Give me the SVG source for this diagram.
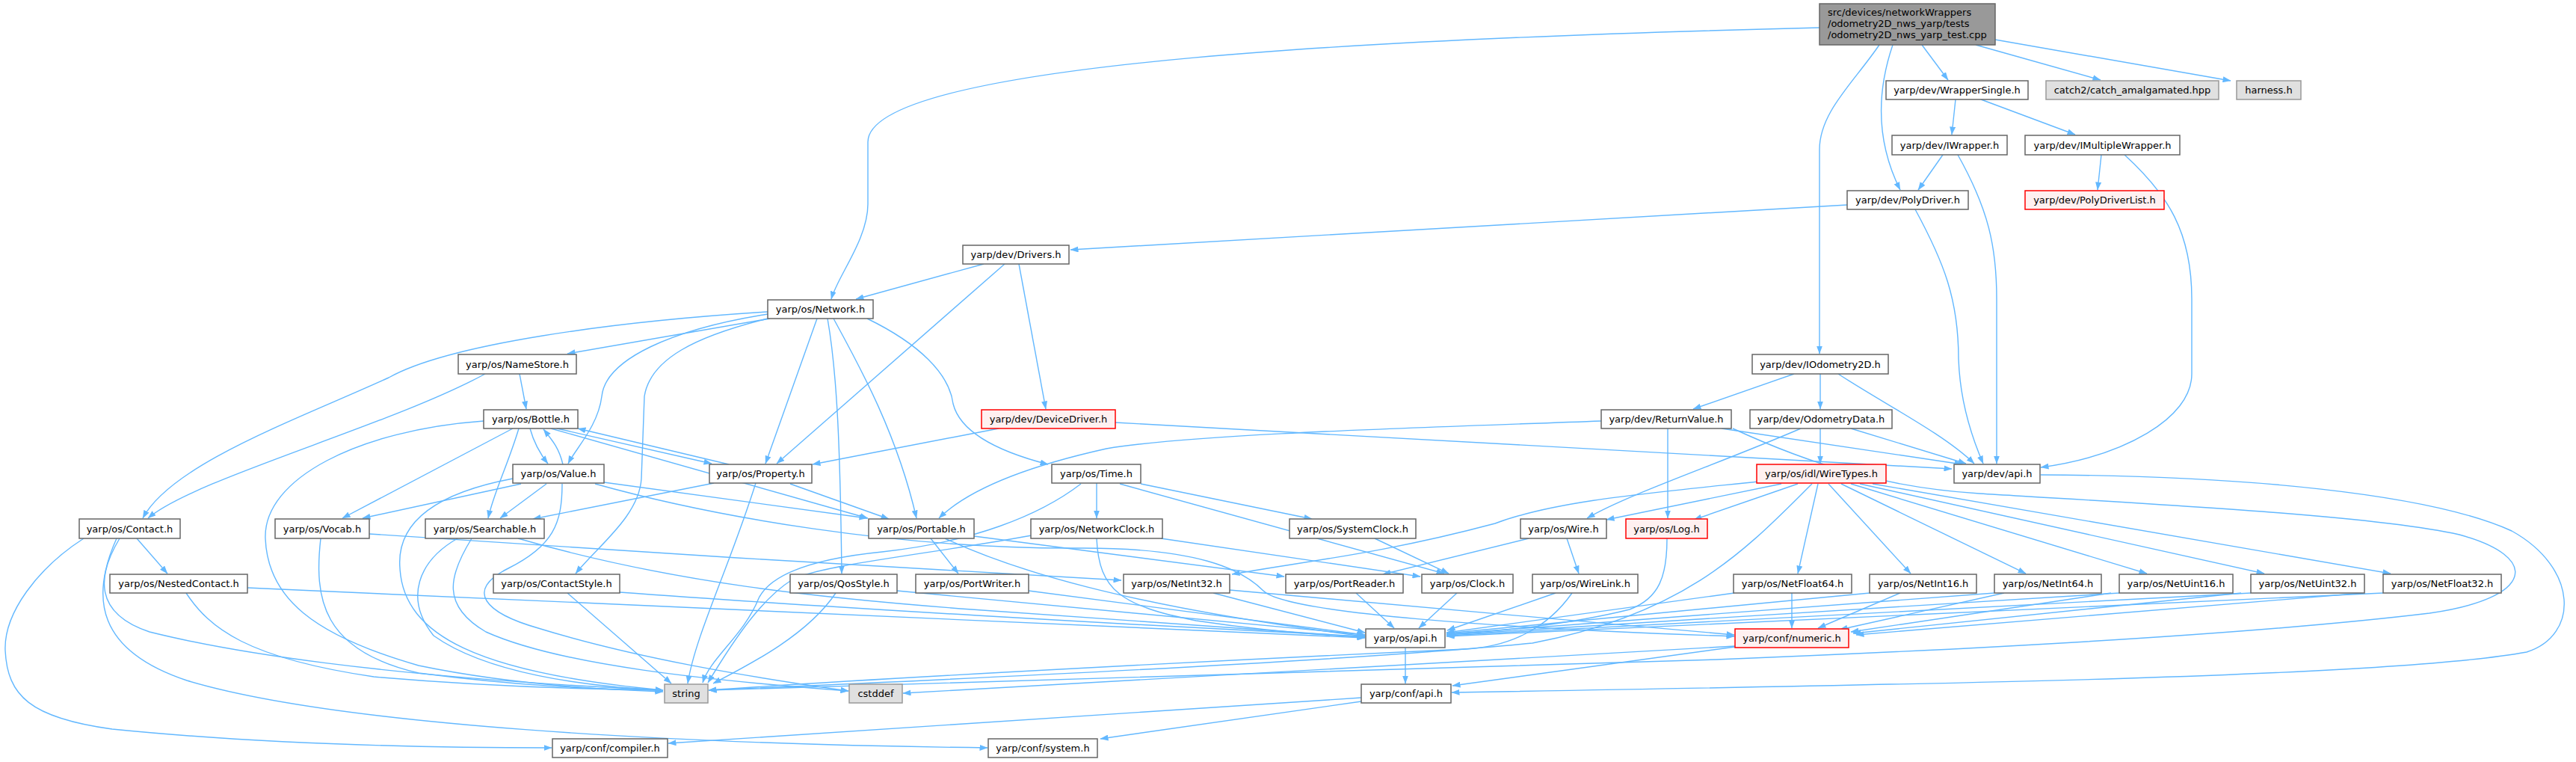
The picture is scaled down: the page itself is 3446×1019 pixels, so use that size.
<svg xmlns="http://www.w3.org/2000/svg" width="3446" height="1019" viewBox="0 0 3446 1019">
<style>
.n rect{fill:#ffffff;stroke:#666666;stroke-width:1.5}
.g rect{fill:#e0e0e0;stroke:#999999;stroke-width:1.5}
.r rect{fill:#fff0f0;stroke:#ff0000;stroke-width:1.5}
.tp rect{fill:#999999;stroke:#666666;stroke-width:1.5}
text{font-family:"DejaVu Sans","Liberation Sans",sans-serif;font-size:13px;fill:#000000;text-anchor:middle}
.tl{text-anchor:start}
#edges path{fill:none;stroke:#63b8ff;stroke-width:1.4;marker-end:url(#a)}
</style>
<defs>
<marker id="a" markerWidth="11" markerHeight="8" refX="10.5" refY="4" orient="auto" markerUnits="userSpaceOnUse">
<path d="M0,0 L11,4 L0,8 z" fill="#63b8ff"/>
</marker>
</defs>
<rect width="3446" height="1019" fill="#ffffff"/>
<g id="edges">
<path d="M2434,37 C1900,50 1161,80 1161,190 L1161,273 C1161,320 1120,370 1112,400"/>
<path d="M2571,60 L2606,107"/>
<path d="M2643,60 L2810,107"/>
<path d="M2669,53 L2984,108"/>
<path d="M2532,60 C2515,110 2505,180 2542,254"/>
<path d="M2514,60 C2480,110 2434,150 2434,200 L2434,473"/>
<path d="M2471,274 L1432,334"/>
<path d="M2616,133 L2611,180"/>
<path d="M2650,133 L2776,180"/>
<path d="M2599,207 L2566,254"/>
<path d="M2619,207 C2660,280 2671,330 2671,400 L2671,620"/>
<path d="M2811,207 L2806,254"/>
<path d="M2842,207 C2900,260 2932,310 2932,400 L2932,500 C2932,560 2840,610 2730,625"/>
<path d="M2562,280 C2600,350 2620,400 2620,480 C2622,540 2640,590 2653,620"/>
<path d="M2400,500 L2265,547"/>
<path d="M2435,500 L2435,547"/>
<path d="M2459,500 C2520,540 2600,580 2641,620"/>
<path d="M2435,573 L2435,620"/>
<path d="M2476,573 L2630,620"/>
<path d="M2409,573 C2300,620 2180,660 2123,693"/>
<path d="M2303,573 L2625,621"/>
<path d="M2231,573 L2231,693"/>
<path d="M2142,563 C1900,572 1600,580 1480,600 C1390,620 1300,650 1256,693"/>
<path d="M2318,573 C2420,620 2520,652 2648,660 C2900,675 3180,690 3290,715 C3400,745 3390,800 3250,820 C3000,850 2600,870 2296,882 L948,923"/>
<path d="M1336,573 L1087,621"/>
<path d="M1492,565 L2611,627"/>
<path d="M1316,353 L1145,400"/>
<path d="M1344,353 L1039,620"/>
<path d="M1363,353 L1399,547"/>
<path d="M1030,426 L759,473"/>
<path d="M1027,417 C820,430 600,460 520,505 C400,560 230,620 191,693"/>
<path d="M1027,420 C900,440 810,480 805,530 C800,570 770,600 760,620"/>
<path d="M1027,426 C930,450 870,480 862,530 L858,640 C855,690 800,730 770,767"/>
<path d="M1093,426 L1024,620"/>
<path d="M1107,426 C1120,500 1124,600 1126,767"/>
<path d="M1115,426 C1150,490 1200,580 1226,693"/>
<path d="M1160,426 C1230,460 1270,500 1275,540 C1285,580 1340,605 1402,621"/>
<path d="M649,500 C520,570 260,640 198,693"/>
<path d="M695,500 L704,547"/>
<path d="M709,573 C715,595 725,610 733,620"/>
<path d="M753,621 C748,600 740,590 727,574"/>
<path d="M745,573 L952,620"/>
<path d="M975,621 L773,573"/>
<path d="M694,573 C680,620 660,660 653,693"/>
<path d="M686,573 L458,693"/>
<path d="M647,563 C480,575 352,640 355,720 C358,800 420,850 560,890 C680,915 800,922 887,925"/>
<path d="M737,573 L1161,693"/>
<path d="M731,647 L669,693"/>
<path d="M697,647 L485,693"/>
<path d="M686,640 C580,660 530,700 535,760 C540,850 640,900 887,923"/>
<path d="M808,645 L1160,693"/>
<path d="M796,647 C950,690 1200,735 1450,733 C1600,733 1660,760 1690,790 C1720,820 2000,840 2320,851"/>
<path d="M752,647 C752,700 740,730 680,760 C620,790 650,820 720,840 C850,880 1000,905 1135,924"/>
<path d="M955,646 L713,694"/>
<path d="M1057,647 L1189,694"/>
<path d="M1011,646 C975,760 930,850 920,914"/>
<path d="M612,720 C560,750 540,800 580,850 C650,900 780,918 887,923"/>
<path d="M631,720 C600,770 590,810 650,845 C750,890 950,910 1135,924"/>
<path d="M693,720 C900,780 1100,800 1300,815 C1500,830 1700,842 1826,852"/>
<path d="M429,720 C420,800 430,870 560,900 C700,918 800,922 887,923"/>
<path d="M494,714 C800,735 1200,760 1500,776"/>
<path d="M183,720 L224,767"/>
<path d="M112,720 C50,760 5,820 7,870 C10,930 40,960 150,975 C350,995 550,1000 738,1000"/>
<path d="M160,720 C130,770 125,820 200,845 C300,870 500,905 887,923"/>
<path d="M156,720 C120,800 130,870 250,910 C450,970 900,995 1321,1000"/>
<path d="M249,793 C280,840 330,880 500,905 C650,918 800,922 887,923"/>
<path d="M331,786 C800,806 1300,828 1826,853"/>
<path d="M759,793 L898,914"/>
<path d="M829,792 C1100,812 1500,835 1826,851"/>
<path d="M1118,793 C1080,850 1000,890 954,914"/>
<path d="M1200,790 L1826,849"/>
<path d="M1467,646 L1467,693"/>
<path d="M1526,647 L1755,694"/>
<path d="M1498,647 L1932,767"/>
<path d="M1446,647 C1390,690 1300,725 1180,738 C1080,748 1030,770 1015,800 C995,850 950,880 940,913"/>
<path d="M1380,716 C1250,740 1100,755 1060,775 C1020,800 985,850 947,913"/>
<path d="M1553,720 L1900,771"/>
<path d="M1467,720 C1470,790 1500,810 1600,830 C1700,845 1780,850 1826,852"/>
<path d="M1245,720 L1282,767"/>
<path d="M1303,717 L1718,771"/>
<path d="M1264,720 C1350,760 1500,810 1826,851"/>
<path d="M1376,790 L1826,849"/>
<path d="M1814,793 L1865,840"/>
<path d="M1949,793 L1898,840"/>
<path d="M1839,720 L1938,767"/>
<path d="M1623,793 L1826,846"/>
<path d="M1645,789 L2320,849"/>
<path d="M2045,720 L1850,768"/>
<path d="M2096,720 L2112,767"/>
<path d="M2081,793 L1936,843"/>
<path d="M2103,793 C2070,840 2020,865 1960,868 C1700,880 1200,905 948,923"/>
<path d="M2230,720 C2230,770 2220,800 2180,815 C2100,835 2000,845 1936,848"/>
<path d="M2352,644 C2200,660 2080,670 2000,700 C1850,740 1750,750 1648,768"/>
<path d="M2383,647 L2149,695"/>
<path d="M2405,647 L2266,695"/>
<path d="M2424,647 C2340,730 2260,820 2050,860 C1800,885 1200,912 948,923"/>
<path d="M2432,647 L2405,767"/>
<path d="M2446,647 L2556,767"/>
<path d="M2463,647 L2710,767"/>
<path d="M2476,647 L2872,767"/>
<path d="M2488,647 L3029,767"/>
<path d="M2505,647 L3198,767"/>
<path d="M2397,793 L2397,840"/>
<path d="M2542,793 L2432,840"/>
<path d="M2681,793 L2461,842"/>
<path d="M2824,793 L2476,845"/>
<path d="M2998,793 L2479,847"/>
<path d="M3161,793 L2483,849"/>
<path d="M2320,793 L1935,846"/>
<path d="M2501,793 L1935,847"/>
<path d="M2668,793 L1935,848"/>
<path d="M2835,793 L1935,849"/>
<path d="M3011,793 L1935,850"/>
<path d="M3188,793 L1935,851"/>
<path d="M2730,635 C3000,636 3250,660 3360,710 C3450,760 3450,850 3380,872 C3200,905 2600,915 1942,926"/>
<path d="M1880,866 L1880,914"/>
<path d="M2321,865 L1943,917"/>
<path d="M2321,864 L1208,927"/>
<path d="M1821,933 L894,994"/>
<path d="M1821,938 L1472,988"/>
</g>
<g id="n_src" class="tp"><rect x="2434" y="5" width="235" height="55"/><text class="tl" x="2445" y="21">src/devices/networkWrappers</text><text class="tl" x="2445" y="36">/odometry2D_nws_yarp/tests</text><text class="tl" x="2445" y="51">/odometry2D_nws_yarp_test.cpp</text></g>
<g id="n_wrappersingle" class="n"><rect x="2523" y="108" width="190" height="25"/><text x="2618" y="125">yarp/dev/WrapperSingle.h</text></g>
<g id="n_catch2" class="g"><rect x="2737" y="108" width="231" height="25"/><text x="2852.5" y="125">catch2/catch_amalgamated.hpp</text></g>
<g id="n_harness" class="g"><rect x="2992" y="108" width="86" height="25"/><text x="3035" y="125">harness.h</text></g>
<g id="n_iwrapper" class="n"><rect x="2531" y="181" width="154" height="26"/><text x="2608" y="198.5">yarp/dev/IWrapper.h</text></g>
<g id="n_imultiplewrapper" class="n"><rect x="2709" y="181" width="207" height="26"/><text x="2812.5" y="198.5">yarp/dev/IMultipleWrapper.h</text></g>
<g id="n_polydriver" class="n"><rect x="2471" y="255" width="162" height="25"/><text x="2552" y="272">yarp/dev/PolyDriver.h</text></g>
<g id="n_polydriverlist" class="r"><rect x="2709" y="255" width="186" height="25"/><text x="2802" y="272">yarp/dev/PolyDriverList.h</text></g>
<g id="n_drivers" class="n"><rect x="1288" y="328" width="142" height="25"/><text x="1359" y="345">yarp/dev/Drivers.h</text></g>
<g id="n_network" class="n"><rect x="1027" y="401" width="141" height="25"/><text x="1097.5" y="418">yarp/os/Network.h</text></g>
<g id="n_namestore" class="n"><rect x="613" y="474" width="158" height="26"/><text x="692" y="491.5">yarp/os/NameStore.h</text></g>
<g id="n_iodometry2d" class="n"><rect x="2344" y="474" width="182" height="26"/><text x="2435" y="491.5">yarp/dev/IOdometry2D.h</text></g>
<g id="n_bottle" class="n"><rect x="647" y="548" width="126" height="25"/><text x="710" y="565">yarp/os/Bottle.h</text></g>
<g id="n_devicedriver" class="r"><rect x="1313" y="548" width="179" height="25"/><text x="1402.5" y="565">yarp/dev/DeviceDriver.h</text></g>
<g id="n_returnvalue" class="n"><rect x="2142" y="548" width="174" height="25"/><text x="2229" y="565">yarp/dev/ReturnValue.h</text></g>
<g id="n_odometrydata" class="n"><rect x="2341" y="548" width="190" height="25"/><text x="2436" y="565">yarp/dev/OdometryData.h</text></g>
<g id="n_value" class="n"><rect x="686" y="621" width="122" height="25"/><text x="747" y="638">yarp/os/Value.h</text></g>
<g id="n_property" class="n"><rect x="949" y="621" width="137" height="25"/><text x="1017.5" y="638">yarp/os/Property.h</text></g>
<g id="n_time" class="n"><rect x="1407" y="621" width="119" height="25"/><text x="1466.5" y="638">yarp/os/Time.h</text></g>
<g id="n_wiretypes" class="r"><rect x="2350" y="621" width="173" height="25"/><text x="2436.5" y="638">yarp/os/idl/WireTypes.h</text></g>
<g id="n_devapi" class="n"><rect x="2614" y="621" width="115" height="25"/><text x="2671.5" y="638">yarp/dev/api.h</text></g>
<g id="n_contact" class="n"><rect x="106" y="694" width="135" height="26"/><text x="173.5" y="711.5">yarp/os/Contact.h</text></g>
<g id="n_vocab" class="n"><rect x="368" y="694" width="126" height="26"/><text x="431" y="711.5">yarp/os/Vocab.h</text></g>
<g id="n_searchable" class="n"><rect x="569" y="694" width="159" height="26"/><text x="648.5" y="711.5">yarp/os/Searchable.h</text></g>
<g id="n_portable" class="n"><rect x="1162" y="694" width="141" height="26"/><text x="1232.5" y="711.5">yarp/os/Portable.h</text></g>
<g id="n_networkclock" class="n"><rect x="1379" y="694" width="176" height="26"/><text x="1467" y="711.5">yarp/os/NetworkClock.h</text></g>
<g id="n_systemclock" class="n"><rect x="1725" y="694" width="169" height="26"/><text x="1809.5" y="711.5">yarp/os/SystemClock.h</text></g>
<g id="n_wire" class="n"><rect x="2034" y="694" width="115" height="26"/><text x="2091.5" y="711.5">yarp/os/Wire.h</text></g>
<g id="n_log" class="r"><rect x="2175" y="694" width="109" height="26"/><text x="2229.5" y="711.5">yarp/os/Log.h</text></g>
<g id="n_nestedcontact" class="n"><rect x="147" y="768" width="184" height="25"/><text x="239" y="785">yarp/os/NestedContact.h</text></g>
<g id="n_contactstyle" class="n"><rect x="660" y="768" width="169" height="25"/><text x="744.5" y="785">yarp/os/ContactStyle.h</text></g>
<g id="n_qosstyle" class="n"><rect x="1057" y="768" width="143" height="25"/><text x="1128.5" y="785">yarp/os/QosStyle.h</text></g>
<g id="n_portwriter" class="n"><rect x="1225" y="768" width="151" height="25"/><text x="1300.5" y="785">yarp/os/PortWriter.h</text></g>
<g id="n_netint32" class="n"><rect x="1503" y="768" width="142" height="25"/><text x="1574" y="785">yarp/os/NetInt32.h</text></g>
<g id="n_portreader" class="n"><rect x="1720" y="768" width="157" height="25"/><text x="1798.5" y="785">yarp/os/PortReader.h</text></g>
<g id="n_clock" class="n"><rect x="1902" y="768" width="122" height="25"/><text x="1963" y="785">yarp/os/Clock.h</text></g>
<g id="n_wirelink" class="n"><rect x="2050" y="768" width="141" height="25"/><text x="2120.5" y="785">yarp/os/WireLink.h</text></g>
<g id="n_netfloat64" class="n"><rect x="2319" y="768" width="158" height="25"/><text x="2398" y="785">yarp/os/NetFloat64.h</text></g>
<g id="n_netint16" class="n"><rect x="2501" y="768" width="143" height="25"/><text x="2572.5" y="785">yarp/os/NetInt16.h</text></g>
<g id="n_netint64" class="n"><rect x="2668" y="768" width="143" height="25"/><text x="2739.5" y="785">yarp/os/NetInt64.h</text></g>
<g id="n_netuint16" class="n"><rect x="2835" y="768" width="152" height="25"/><text x="2911" y="785">yarp/os/NetUint16.h</text></g>
<g id="n_netuint32" class="n"><rect x="3011" y="768" width="152" height="25"/><text x="3087" y="785">yarp/os/NetUint32.h</text></g>
<g id="n_netfloat32" class="n"><rect x="3188" y="768" width="158" height="25"/><text x="3267" y="785">yarp/os/NetFloat32.h</text></g>
<g id="n_osapi" class="n"><rect x="1827" y="841" width="106" height="25"/><text x="1880" y="858">yarp/os/api.h</text></g>
<g id="n_numeric" class="r"><rect x="2321" y="841" width="152" height="25"/><text x="2397" y="858">yarp/conf/numeric.h</text></g>
<g id="n_string" class="g"><rect x="889" y="915" width="58" height="25"/><text x="918" y="932">string</text></g>
<g id="n_cstddef" class="g"><rect x="1136" y="915" width="71" height="25"/><text x="1171.5" y="932">cstddef</text></g>
<g id="n_confapi" class="n"><rect x="1821" y="915" width="120" height="25"/><text x="1881" y="932">yarp/conf/api.h</text></g>
<g id="n_compiler" class="n"><rect x="739" y="988" width="154" height="25"/><text x="816" y="1005">yarp/conf/compiler.h</text></g>
<g id="n_system" class="n"><rect x="1322" y="988" width="146" height="25"/><text x="1395" y="1005">yarp/conf/system.h</text></g>
</svg>
